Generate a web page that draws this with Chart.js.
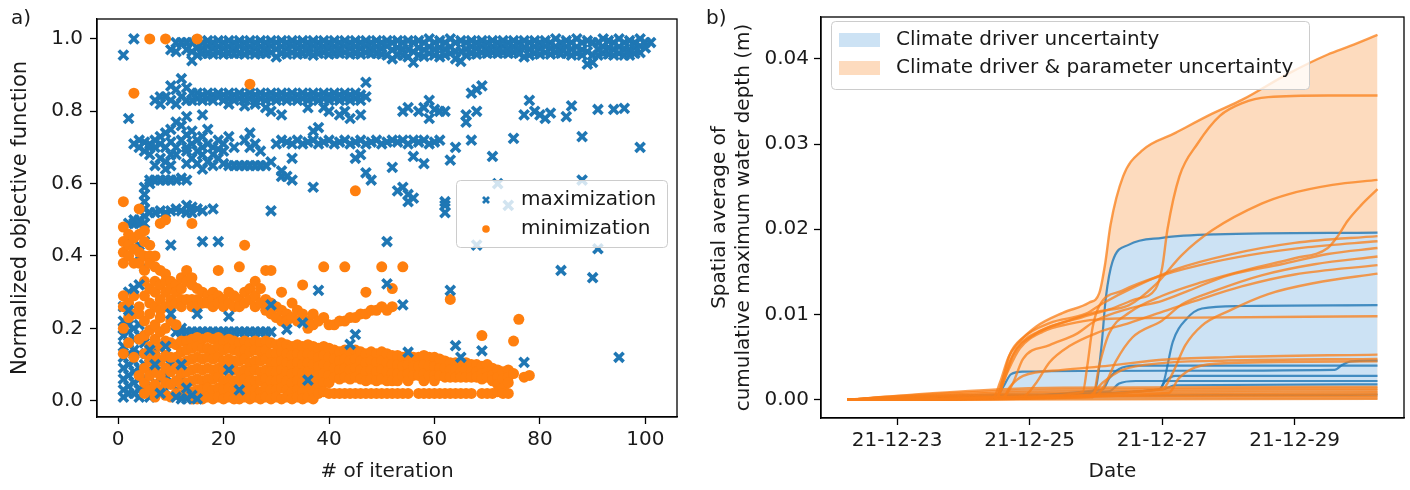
<!DOCTYPE html>
<html><head><meta charset="utf-8">
<script src="https://cdn.jsdelivr.net/npm/chart.js@4.4.1/dist/chart.umd.min.js"></script>
<style>
html,body{margin:0;padding:0;background:#fff;}
#wrap{position:relative;width:1410px;height:490px;overflow:hidden;background:#fff;}
#ca{position:absolute;left:0;top:0;}
#cb{position:absolute;left:700px;top:0;}
.lab{position:absolute;font-family:"DejaVu Sans",sans-serif;font-size:20px;line-height:24px;color:#1a1a1a;z-index:5;}
</style></head><body>
<div id="wrap">
<canvas id="ca" width="700" height="490"></canvas>
<canvas id="cb" width="710" height="490"></canvas>
<div class="lab" style="left:11px;top:5px;">a)</div>
<div class="lab" style="left:706px;top:5px;">b)</div>
</div>
<script>
// ---------------- Panel a data: [iteration, value, value, ...] ----------------
const maxTopBand = [[1,.955],[3,1.0],[10,.97],[11,.99,.965],[12,.99],[13,.99,.97],[14,.99,.965,.94],
[15,.995,.975,.955],[16,.99,.975,.96],[17,.995,.98,.96],[18,.99,.975,.958],[19,.995,.978,.962],[20,.99,.975,.958],[21,.995,.978,.96],[22,.99,.975,.96],[23,.995,.98,.96],[24,.99,.975,.958],[25,.995,.978,.962],[26,.99,.975,.958],[27,.995,.978,.96],[28,.99,.975,.96],[29,.995,.98,.962],[30,.99,.972,.95],[31,.995,.978,.96],[32,.99,.975,.958],[33,.995,.98,.962],[34,.99,.975,.958],[35,.995,.978,.96],[36,.99,.975,.96],[37,.995,.98,.955],[38,.99,.975,.96],[39,.995,.978,.962],[40,.99,.975,.958],[41,.995,.978,.96],[42,.99,.975,.96],[43,.995,.98,.962],[44,.99,.975,.958],[45,.995,.978,.96],[46,.99,.975,.958],[47,.995,.98,.962],[48,.99,.975,.96],[49,.995,.978,.96],[50,.99,.975,.958],[51,.995,.98,.955],[52,.99,.97,.945],[53,.995,.975,.955],[54,.99,.972,.955],[55,.995,.97,.95],[56,.99,.965,.935],[57,.995,.975,.955],[58,.99,.97,.952],[59,1.0,.978,.96],[60,.99,.972,.955],[61,.995,.975,.95],[62,.99,.972,.955],[63,1.0,.978,.96],[64,.99,.965,.945],[65,.995,.965,.938],[66,.99,.972,.955],[67,.995,.978,.96],[68,.99,.975,.958],[69,.995,.98,.962],[70,.99,.975,.96],[71,.995,.978,.962],[72,.99,.975,.96],[73,.995,.98,.962],[74,.99,.975,.96],[75,.995,.978,.962],[76,.99,.975,.96],[77,.995,.975,.95],[78,.99,.972,.955],[79,.995,.978,.96],[80,.99,.975,.958],[81,.995,.98,.962],[82,.99,.975,.958],[83,1.0,.978,.962],[84,.99,.975,.96],[85,.995,.978,.96],[86,.99,.972,.955],[87,1.0,.978,.96],[88,.99,.97,.955],[89,.995,.965,.93],[90,.99,.955,.935],[91,.99,.972,.955],[92,1.0,.978,.96],[93,.995,.975,.958],[94,.99,.972,.955],[95,1.0,.978,.96],[96,.99,.972,.955],[97,.995,.97,.955],[98,.99,.975,.96],[99,1.0,.98,.962],[100,.99,.975],[101,.99]];
const maxBand84 = [[2,.78],[7,.83],[8,.82,.84],[9,.84],[10,.87,.83],[11,.86,.82],[12,.89,.84],[13,.865,.83],[14,.85,.83],[15,.85,.835],[16,.845,.83],[17,.85,.835],[18,.845,.83],[19,.85,.84],[20,.845,.83],[21,.85,.835,.82],[22,.845,.83],[23,.85,.835],[24,.845,.83,.815],[25,.85,.835],[26,.845,.83,.82],[27,.85,.835],[28,.845,.83,.81],[29,.85,.835,.80],[30,.845,.83],[31,.85,.835,.79],[32,.845,.83],[33,.85,.835],[34,.845,.83],[35,.85,.835],[36,.845,.83,.81],[37,.85,.835],[38,.845,.83],[39,.85,.835,.81],[40,.845,.83,.80],[41,.85,.835],[42,.845,.83,.79],[43,.85,.835,.80],[44,.845,.83,.78],[45,.85,.835],[46,.845,.83,.79],[47,.88,.84],
[54,.80],[55,.81],[57,.80],[58,.81],[59,.83,.78],[60,.805],[61,.80],[62,.80],[66,.77,.79],[67,.85],[68,.86,.80],[69,.87],[77,.79],[78,.83],[79,.80],[80,.79],[81,.78],[82,.795],[85,.785],[86,.815],[91,.805],[94,.805],[96,.808]];
const maxBand72 = [[3,.71],[4,.70,.72],[5,.715,.69],[6,.71,.70],[7,.72,.70],[8,.73,.71],[9,.74,.70],[10,.75,.715,.68],[11,.77,.70],[12,.76,.72],[13,.785,.735,.70],[14,.745,.71],[15,.72,.69],[16,.79,.73,.70],[17,.75,.71],[18,.70,.68],[19,.72,.695],[20,.71,.69],[21,.73],[22,.70],[24,.72],[25,.74,.70],[26,.71],[27,.69],[30,.71],[31,.72],[32,.715],[33,.71],[34,.72],[35,.71],[36,.715],[37,.72,.745],[38,.71,.755],[39,.715],[40,.72],[41,.71],[42,.715],[43,.72],[44,.71],[45,.715],[46,.72],[47,.71],[48,.715],[49,.72],[50,.71],[51,.715],[52,.72],[53,.715],[54,.72],[55,.71],[56,.72],[57,.715],[58,.72],[59,.71],[60,.715],[61,.72],[64,.70],[67,.72],[75,.725],[88,.73],[99,.70]];
const maxBand65 = [[6,.68],[7,.65],[8,.67],[9,.66,.64],[10,.65],[11,.68],[13,.69,.655],[14,.67],[15,.655],[16,.68,.64],[17,.66],[18,.65],[19,.67],[20,.655],[21,.65],[22,.65],[23,.65],[24,.65],[25,.65],[26,.65],[27,.65],[28,.65],[29,.66],[31,.635,.62],[32,.62],[33,.61,.67],[37,.59],[45,.67],[46,.68],[47,.63],[48,.61],[52,.645],[56,.675],[58,.655],[63,.665],[71,.675]];
const maxBand55 = [[5,.59,.57,.55],[6,.61,.60],[7,.61],[8,.61],[9,.61],[10,.61],[11,.61],[12,.615],[13,.61],
[3,.49],[4,.50],[5,.51,.53],[6,.52],[7,.52],[8,.525],[9,.52],[10,.525],[11,.53],[12,.525],[13,.54,.52],[14,.535,.52],[15,.53],[16,.525],[18,.53],[29,.525],[53,.58],[54,.59],[55,.57,.55],[56,.56],[62,.55,.52,.54],[72,.60],[74,.54],[88,.61]];
const maxLow = [[1,.26,.22,.20,.18,.15,.12,.09,.06,.03,.01],[2,.49,.44,.30,.21,.19,.16,.13,.10,.07,.04,.02],[3,.50,.42,.20,.17,.14,.11,.08,.05,.02],[4,.49,.43,.40,.21,.18,.13,.09,.06,.03,.01],[5,.49,.44,.37,.16,.10,.06,.03],[6,.12,.08,.04,.01],[7,.14,.09,.05,.02],[8,.11,.06],[9,.13,.07,.03],[10,.43,.10,.05],[11,.09,.03],[12,.06],
[11,.19],[12,.19,.20],[13,.19],[14,.19],[15,.19],[16,.19],[17,.19],[18,.19],[19,.19],[20,.19],[21,.19],[22,.19],[23,.19],[24,.19],[25,.19],[26,.19],[27,.19],[28,.19],[29,.19]];
const maxOnTop = [[2,.25],[3,.31],[4,.32],[6,.14],[7,.10],[8,.02],[9,.15],[10,.24],[11,.01],[12,.10,.005],[13,.035,.005],[14,.015],[15,.24,.005],[16,.44],[19,.44],[21,.233,.085],[23,.03],[29,.265],[32,.197],[35,.215],[36,.057],[38,.305],[44,.156],[45,.183],[51,.323,.44],[54,.265],[55,.134],[63,.305],[64,.152],[65,.12],[68,.43],[69,.138],[77,.106],[84,.36],[90,.34],[91,.42],[95,.12]];

const minHigh = [[1,.55],[3,.85],[4,.53],[6,1.0],[9,1.0],[15,1.0],[25,.875],[45,.58]];
const minMid = [[1,.48,.44,.41,.38,.29,.26],[2,.46,.43,.40,.27],[3,.45,.42,.38,.29],[4,.46,.41,.38,.26,.24],[5,.47,.44,.40,.36,.33,.29],[6,.43,.40,.38,.31,.27],[7,.40,.37,.33,.30,.26],[8,.49,.36,.32,.28,.25],[9,.50,.35,.33,.30,.26],[10,.33,.31,.28,.26],[11,.32,.30,.27],[12,.34,.31,.28,.26],[13,.36,.33,.28],[14,.49,.34,.32,.28,.26],[15,.31,.28,.26],[16,.30,.27],[17,.29,.27],[18,.30,.28,.26],[19,.36,.29,.27],[20,.28,.26],[21,.30,.27],[22,.29,.26],[23,.37,.28,.26],[24,.43,.30,.27],[25,.31,.28],[26,.33,.29,.26],[27,.31,.27],[28,.36,.28,.25],[29,.36,.27,.24],[30,.26,.23],[31,.30,.25,.22],[32,.24,.22],[33,.27,.23],[34,.25,.22],[35,.32,.24],[36,.22,.20],[37,.24,.21],[38,.22],[39,.37,.23],[40,.21],[41,.21],[42,.22],[43,.37,.22],[44,.23],[45,.23],[46,.24],[47,.30,.24],[48,.25],[49,.25],[50,.37,.26],[51,.25],[52,.31,.26],[54,.37],[63,.28],[69,.18],[75,.165],[76,.225]];
const minDense = [[1,.20,.13],[2,.23,.16],[3,.12,.24],[4,.17,.07],
[5,.22,.18,.13,.09,.05,.02],[6,.24,.195,.15,.11,.07,.03],[7,.21,.17,.125,.085,.045,.01],[8,.23,.19,.15,.11,.07,.03],[9,.20,.165,.125,.09,.05,.015],[10,.22,.16,.12,.08,.045,.01],[11,.21,.155,.12,.09,.055,.02],[12,.165,.135,.105,.075,.045,.015],[13,.165,.14,.11,.08,.05,.02],[14,.17,.145,.115,.085,.055,.025,.005],[15,.175,.15,.12,.09,.06,.03,.005],[16,.17,.145,.115,.085,.055,.03,.005],[17,.175,.145,.12,.09,.06,.035,.01],[18,.17,.14,.115,.085,.06,.03,.005],[19,.175,.15,.12,.09,.065,.035,.01],[20,.165,.14,.11,.085,.055,.03,.005],[21,.17,.145,.115,.09,.06,.035,.01],[22,.165,.14,.11,.085,.055,.03,.005],[23,.16,.135,.11,.08,.055,.025,.005],[24,.165,.14,.115,.085,.06,.035,.01],[25,.16,.135,.105,.08,.055,.03,.005],[26,.165,.14,.11,.085,.055,.03,.01],[27,.16,.135,.11,.08,.055,.025,.005],[28,.165,.14,.115,.085,.06,.035,.01],[29,.16,.13,.105,.08,.055,.03,.005],[30,.155,.13,.105,.08,.055,.03,.01],[31,.16,.135,.11,.085,.06,.035,.005],[32,.155,.13,.105,.08,.055,.03,.01],[33,.15,.125,.10,.075,.05,.025,.005],[34,.155,.13,.105,.08,.055,.03,.01],[35,.15,.125,.10,.075,.05,.025,.005],[36,.155,.13,.105,.08,.055,.03,.01],[37,.15,.125,.10,.075,.05,.025,.005],[38,.145,.12,.095,.07,.045,.02],[39,.15,.125,.10,.075,.05,.025],[40,.145,.12,.095,.07,.05,.02],
[41,.14,.115,.09,.065,.02],[42,.135,.11,.085,.06,.02],[43,.14,.115,.09,.065,.02],[44,.135,.11,.085,.06,.02],[45,.14,.115,.09,.065,.02],[46,.135,.11,.085,.06,.02],[47,.13,.105,.08,.055,.02],[48,.135,.11,.085,.06,.02],[49,.13,.105,.08,.055,.02],[50,.135,.11,.085,.06,.02],[51,.13,.105,.08,.055,.02],[52,.125,.10,.075,.055,.02],[53,.125,.10,.075,.055,.02],[54,.12,.095,.07,.02],[55,.125,.10,.075,.055,.02],[56,.12,.095,.07],[57,.12,.095,.07,.02],[58,.125,.10,.075,.055,.02],[59,.12,.095,.07,.02],[60,.12,.095,.07,.055,.02],[61,.115,.09,.07,.02],[62,.11,.09,.065,.02],[63,.105,.085,.065,.02],[64,.105,.085,.065,.02],[65,.10,.08,.065,.02],[66,.105,.085,.065,.02],[67,.10,.08,.065,.02],[68,.10,.08,.065],[69,.095,.075,.06,.02],[70,.10,.08,.065,.02],[71,.09,.07,.055,.02],[72,.085,.065,.045,.025],[73,.08,.06,.035,.02],[74,.085,.065,.05,.02],[75,.075],[77,.065],[78,.07]];
const iterTicks = [0,20,40,60,80,100];
const objTicks = [0,0.2,0.4,0.6,0.8,1.0];
const legendLabelsA = ['maximization','minimization'];

// ---------------- Panel b data: [day of Dec 2021, depth (m)] ----------------
const climateRuns = [
 [[22.25,0],[24.5,0.0004],[25.9,0.0009],[26.0,0.0015],[26.08,0.006],[26.15,0.012],[26.25,0.0162],[26.5,0.0182],[27.0,0.019],[27.8,0.0194],[30.25,0.0196]],
 [[22.25,0],[24.6,0.0006],[26.95,0.0012],[27.02,0.002],[27.16,0.0068],[27.37,0.0095],[27.6,0.0107],[28.2,0.011],[30.25,0.0111]],
 [[22.25,0],[24.5,0.0003],[24.6,0.0015],[24.72,0.003],[24.9,0.0033],[27.0,0.0034],[29.6,0.0035],[29.72,0.0041],[29.85,0.0045],[30.25,0.0046]],
 [[22.25,0],[26.1,0.0012],[26.2,0.0025],[26.35,0.0036],[26.6,0.004],[30.25,0.004]],
 [[22.25,0],[26.95,0.0012],[27.05,0.0022],[27.2,0.0028],[30.25,0.0028]],
 [[22.25,0],[26.2,0.001],[26.35,0.0019],[26.6,0.0022],[30.25,0.0022]],
 [[22.25,0],[24.6,0.0005],[27.0,0.0012],[27.2,0.0017],[30.25,0.0018]],
 [[22.25,0],[22.9,0.0002],[30.25,0.0006]]
];
const climateUpper = [[22.25,0],[24.5,0.0004],[24.6,0.0015],[24.72,0.003],[24.9,0.0033],[26.0,0.0034],[26.08,0.006],[26.15,0.012],[26.25,0.0162],[26.5,0.0182],[27.0,0.019],[27.8,0.0194],[30.25,0.0196]];
const paramRuns = [
 [[22.25,0],[24.45,0.0003],[24.55,0.002],[24.68,0.005],[24.82,0.0066],[25.1,0.0086],[25.5,0.0102],[25.9,0.0114],[26.05,0.0125],[26.14,0.016],[26.22,0.0205],[26.41,0.0262],[26.69,0.0292],[27.2,0.0313],[27.74,0.0335],[28.21,0.0352],[28.89,0.0382],[29.5,0.0405],[29.84,0.0415],[30.25,0.0428]],
 [[22.25,0],[24.5,0.0003],[24.62,0.003],[24.8,0.006],[25.2,0.0082],[25.8,0.0097],[26.2,0.0106],[26.6,0.0118],[26.9,0.013],[27.0,0.0155],[27.08,0.02],[27.26,0.0262],[27.53,0.03],[27.87,0.0333],[28.21,0.0348],[28.6,0.0355],[29.5,0.0357],[30.25,0.0357]],
 [[22.25,0],[24.5,0.0002],[24.6,0.002],[24.75,0.0052],[25.1,0.0078],[25.6,0.0093],[26.0,0.0103],[26.5,0.0111],[26.9,0.0135],[27.3,0.017],[27.76,0.0199],[28.5,0.023],[28.9,0.0241],[29.57,0.0252],[30.25,0.0258]],
 [[22.25,0],[25.95,0.0003],[26.05,0.004],[26.2,0.0078],[26.5,0.0102],[27.0,0.0122],[27.6,0.0138],[28.3,0.0153],[29.0,0.0166],[29.5,0.0178],[29.65,0.0192],[29.8,0.021],[30.0,0.0228],[30.25,0.0247]],
 [[22.25,0],[24.5,0.0002],[24.58,0.002],[24.7,0.0053],[24.9,0.0073],[25.3,0.009],[25.85,0.0101],[26.1,0.0113],[26.6,0.0133],[27.2,0.0153],[28.0,0.017],[29.0,0.0184],[30.25,0.0192]],
 [[22.25,0],[24.5,0.0003],[25.8,0.0009],[25.87,0.004],[25.95,0.0085],[26.05,0.011],[26.4,0.0128],[27.0,0.0146],[27.8,0.0162],[28.5,0.0172],[29.2,0.0179],[30.25,0.0186]],
 [[22.25,0],[24.6,0.0003],[24.75,0.002],[24.9,0.0048],[25.3,0.0064],[25.7,0.0077],[26.0,0.0093],[26.5,0.0107],[27.0,0.0116],[27.4,0.0128],[28.0,0.0146],[28.8,0.0159],[29.5,0.0171],[30.25,0.0178]],
 [[22.25,0],[26.0,0.0005],[26.15,0.002],[26.3,0.0045],[26.55,0.0073],[27.0,0.0093],[27.3,0.0112],[27.8,0.0128],[28.5,0.0146],[29.3,0.0159],[30.25,0.0168]],
 [[22.25,0],[24.9,0.0004],[25.1,0.002],[25.3,0.0044],[25.6,0.0063],[26.0,0.0078],[26.5,0.009],[27.0,0.0103],[27.5,0.0116],[28.2,0.0133],[29.0,0.0147],[30.25,0.0158]],
 [[22.25,0],[27.0,0.0012],[27.15,0.003],[27.35,0.0064],[27.6,0.0087],[28.0,0.0104],[28.6,0.0124],[29.3,0.0137],[30.25,0.0148]],
 [[22.25,0],[24.5,0.0003],[24.65,0.003],[24.85,0.006],[25.2,0.008],[25.6,0.0089],[26.0,0.0094],[27.0,0.0096],[30.25,0.0098]],
 [[22.25,0],[24.6,0.0003],[24.7,0.0015],[24.9,0.0028],[25.5,0.0035],[26.2,0.004],[27.0,0.0047],[28,0.005],[30.25,0.0053]],
 [[22.25,0],[25.9,0.0005],[26.1,0.002],[26.4,0.0035],[27.0,0.0043],[28.0,0.0046],[30.25,0.0048]],
 [[22.25,0],[27.1,0.0008],[27.25,0.0025],[27.5,0.0038],[28,0.0043],[30.25,0.0045]],
 [[22.25,0],[22.9,0.0004],[24.5,0.0012],[25.5,0.0014],[30.25,0.0015]],
 [[22.25,0],[22.9,0.0004],[24.5,0.001],[26,0.0012],[30.25,0.0013]],
 [[22.25,0],[22.9,0.0003],[24.5,0.0008],[26.5,0.001],[30.25,0.0011]],
 [[22.25,0],[22.9,0.0003],[25,0.0007],[27,0.0008],[30.25,0.0009]],
 [[22.25,0],[22.9,0.0003],[24.5,0.0005],[27,0.0006],[30.25,0.0007]],
 [[22.25,0],[22.9,0.0002],[24.5,0.0004],[30.25,0.0005]],
 [[22.25,0],[22.9,0.0002],[26,0.0003],[30.25,0.0003]],
 [[22.25,0],[30.25,0.0001]]
];
const paramUpper = paramRuns[0];
const dateTickDays = [23,25,27,29];
const dateTickLabels = ['21-12-23','21-12-25','21-12-27','21-12-29'];
const depthTicks = [0,0.01,0.02,0.03,0.04];
const legendLabelsB = ['Climate driver uncertainty','Climate driver & parameter uncertainty'];

// ---------------- helpers ----------------
const FAM = '"DejaVu Sans", sans-serif';
const TXT = '#1a1a1a';
const BLUE = '#1f77b4', ORANGE = '#ff7f0e';
const FILL_B = 'rgb(204,226,244)', FILL_O = 'rgb(253,219,190)';
function flat(groups){ const out=[]; groups.forEach(g=>{ for(let k=1;k<g.length;k++) out.push({x:g[0],y:g[k]}); }); return out; }
const xy = arr => arr.map(p=>({x:p[0],y:p[1]}));
const fixedTicks = vals => (s => { s.ticks = vals.map(v=>({value:v})); });

const frame = { id:'frame', afterDraw(chart){ const {ctx,chartArea:a}=chart; ctx.save(); ctx.strokeStyle='#000'; ctx.lineWidth=1.3; ctx.strokeRect(a.left,a.top,a.right-a.left,a.bottom-a.top); ctx.restore(); } };
function rr(ctx,x,y,w,h,r){ ctx.beginPath(); ctx.moveTo(x+r,y); ctx.lineTo(x+w-r,y); ctx.quadraticCurveTo(x+w,y,x+w,y+r); ctx.lineTo(x+w,y+h-r); ctx.quadraticCurveTo(x+w,y+h,x+w-r,y+h); ctx.lineTo(x+r,y+h); ctx.quadraticCurveTo(x,y+h,x,y+h-r); ctx.lineTo(x,y+r); ctx.quadraticCurveTo(x,y,x+r,y); ctx.closePath(); }

const legendA = { id:'legendA', afterDatasetsDraw(chart){
  const ctx=chart.ctx; ctx.save();
  rr(ctx,456.5,180.5,211,67,4); ctx.fillStyle='rgba(255,255,255,0.8)'; ctx.fill(); ctx.strokeStyle='#cccccc'; ctx.lineWidth=1; ctx.stroke();
  ctx.strokeStyle=BLUE; ctx.lineWidth=2.8; const mx=486,my=200,d=3;
  ctx.beginPath(); ctx.moveTo(mx-d,my-d); ctx.lineTo(mx+d,my+d); ctx.moveTo(mx+d,my-d); ctx.lineTo(mx-d,my+d); ctx.stroke();
  ctx.fillStyle=ORANGE; ctx.beginPath(); ctx.arc(486,229,3.8,0,Math.PI*2); ctx.fill();
  ctx.fillStyle=TXT; ctx.font='20px '+FAM; ctx.textBaseline='middle'; ctx.textAlign='left';
  ctx.fillText(legendLabelsA[0],521,200); ctx.fillText(legendLabelsA[1],521,229);
  ctx.restore(); } };

const legendB = { id:'legendB', afterDatasetsDraw(chart){
  const ctx=chart.ctx; ctx.save();
  rr(ctx,131.5,21.5,478,68,4); ctx.fillStyle='rgba(255,255,255,0.8)'; ctx.fill(); ctx.strokeStyle='#cccccc'; ctx.lineWidth=1; ctx.stroke();
  ctx.fillStyle=FILL_B; ctx.fillRect(139,33,41,14);
  ctx.fillStyle=FILL_O; ctx.fillRect(139,61,41,14);
  ctx.fillStyle=TXT; ctx.font='20px '+FAM; ctx.textBaseline='middle'; ctx.textAlign='left';
  ctx.fillText(legendLabelsB[0],196,40); ctx.fillText(legendLabelsB[1],196,68);
  ctx.restore(); } };

function axisCommon(){ return {
  grid:{display:true,drawOnChartArea:false,drawTicks:true,tickLength:7,tickWidth:1.3,tickColor:'#000',color:'rgba(0,0,0,0)'},
  border:{display:true,color:'#000',width:1.3},
}; }

// ---------------- Panel a ----------------
const XR = 6.5, XW = 3.6, CR = 5.5;
new Chart(document.getElementById('ca'), {
  type:'scatter',
  data:{ datasets:[
    { label:legendLabelsA[0], data:flat(maxOnTop), pointStyle:'crossRot', pointRadius:XR, borderWidth:XW, borderColor:BLUE, backgroundColor:BLUE, order:1 },
    { label:legendLabelsA[1], data:flat(minHigh).concat(flat(minMid),flat(minDense)), pointStyle:'circle', pointRadius:CR, borderWidth:0, backgroundColor:ORANGE, borderColor:ORANGE, order:2 },
    { label:legendLabelsA[0], data:flat(maxTopBand).concat(flat(maxBand84),flat(maxBand72),flat(maxBand65),flat(maxBand55),flat(maxLow)), pointStyle:'crossRot', pointRadius:XR, borderWidth:XW, borderColor:BLUE, backgroundColor:BLUE, order:3 }
  ]},
  options:{
    responsive:false, animation:false, devicePixelRatio:1,
    layout:{padding:{left:0,right:23,top:12,bottom:0}},
    plugins:{legend:{display:false},tooltip:{enabled:false}},
    scales:{
      x:{ type:'linear', min:-4, max:106, afterBuildTicks:fixedTicks(iterTicks), afterFit:s=>{s.height=73;},
          ...axisCommon(),
          ticks:{color:TXT,font:{family:FAM,size:20},padding:4,maxRotation:0,autoSkip:false,callback:v=>String(v)},
          title:{display:true,text:'# of iteration',color:TXT,font:{family:FAM,size:20},padding:{top:0,bottom:6}} },
      y:{ type:'linear', min:-0.045, max:1.055, afterBuildTicks:fixedTicks(objTicks), afterFit:s=>{s.width=97;},
          ...axisCommon(),
          ticks:{color:TXT,font:{family:FAM,size:20},padding:7,autoSkip:false,callback:v=>v.toFixed(1)},
          title:{display:true,text:'Normalized objective function',color:TXT,font:{family:FAM,size:21},padding:{top:8,bottom:0}} }
    }
  },
  plugins:[legendA, frame]
});

// ---------------- Panel b ----------------
const dsB = [];
dsB.push({ label:legendLabelsB[1], data:xy(paramUpper), borderWidth:0, pointRadius:0, fill:'origin', backgroundColor:FILL_O, cubicInterpolationMode:'monotone', order:100 });
dsB.push({ label:legendLabelsB[0], data:xy(climateUpper), borderWidth:0, pointRadius:0, fill:'origin', backgroundColor:FILL_B, cubicInterpolationMode:'monotone', order:99 });
climateRuns.forEach((r,i)=>dsB.push({ label:legendLabelsB[0]+' run '+(i+1), data:xy(r), borderColor:'rgba(31,119,180,0.8)', borderWidth:2.2, pointRadius:0, fill:false, cubicInterpolationMode:'monotone', order:50 }));
paramRuns.forEach((r,i)=>dsB.push({ label:legendLabelsB[1]+' run '+(i+1), data:xy(r), borderColor:'rgba(250,128,25,0.76)', borderWidth:2.4, pointRadius:0, fill:false, cubicInterpolationMode:'monotone', order:10 }));

new Chart(document.getElementById('cb'), {
  type:'line',
  data:{ datasets:dsB },
  options:{
    responsive:false, animation:false, devicePixelRatio:1,
    layout:{padding:{left:0,right:6,top:13,bottom:0}},
    plugins:{legend:{display:false},tooltip:{enabled:false},filler:{propagate:false}},
    scales:{
      x:{ type:'linear', min:21.85, max:30.65, afterBuildTicks:fixedTicks(dateTickDays), afterFit:s=>{s.height=72;},
          ...axisCommon(),
          ticks:{color:TXT,font:{family:FAM,size:20},padding:4,maxRotation:0,autoSkip:false,callback:v=>dateTickLabels[dateTickDays.indexOf(v)]},
          title:{display:true,text:'Date',color:TXT,font:{family:FAM,size:20},padding:{top:0,bottom:6}} },
      y:{ type:'linear', min:-0.00214, max:0.0449, afterBuildTicks:fixedTicks(depthTicks), afterFit:s=>{s.width=121;},
          ...axisCommon(),
          ticks:{color:TXT,font:{family:FAM,size:20},padding:5,autoSkip:false,callback:v=>v.toFixed(2)},
          title:{display:true,text:['Spatial average of','cumulative maximum water depth (m)'],color:TXT,font:{family:FAM,size:20},padding:{top:8,bottom:0}} }
    }
  },
  plugins:[legendB, frame]
});
</script>
</body></html>
